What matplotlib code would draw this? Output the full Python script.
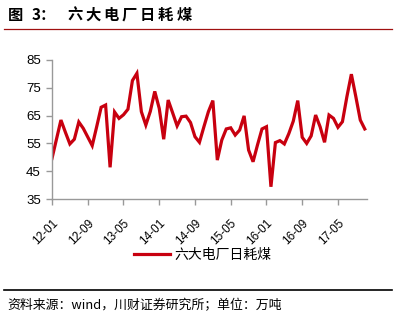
import matplotlib
matplotlib.use("Agg")
import matplotlib.pyplot as plt
from matplotlib.lines import Line2D
from matplotlib.transforms import ScaledTranslation

plt.rcParams['font.family'] = ['Liberation Sans', 'Noto Sans CJK SC', 'DejaVu Sans']
plt.rcParams['axes.unicode_minus'] = False

# 六大电厂日耗煤（万吨），2012-01 起按月
values = [49.6, 56.5, 63.4, 59.0, 54.8, 56.5, 62.7, 60.4, 57.3, 54.2,
          61.0, 68.0, 68.8, 46.4, 66.3, 64.0, 65.3, 67.3, 77.6, 80.2,
          66.4, 61.6, 66.5, 73.7, 67.6, 56.5, 70.6, 66.0, 61.3, 64.6,
          64.8, 62.5, 57.4, 55.4, 61.0, 66.4, 70.4, 49.0, 56.2, 60.2,
          60.6, 58.0, 59.8, 64.9, 52.6, 48.4, 54.5, 60.2, 61.0, 39.4,
          55.3, 56.0, 54.8, 58.5, 63.0, 70.4, 57.2, 55.0, 57.7, 65.2,
          61.0, 55.4, 65.2, 64.0, 60.8, 62.8, 71.8, 79.9, 71.8, 63.4,
          60.2]
tick_labels = ['12-01', '12-09', '13-05', '14-01', '14-09',
               '15-05', '16-01', '16-09', '17-05']
yticks = [35, 45, 55, 65, 75, 85]
title_chars = '六大电厂日耗煤'

red = '#c8000f'
grey = '#999999'
W, H = 398, 322

fig = plt.figure(figsize=(W / 100, H / 100), dpi=100)
cjk = ['Noto Sans CJK SC', 'DejaVu Sans']

# 标题（逐字排开，字距较宽）
ty = 1 - 15 / H
fig.text(8 / W, ty, '图', fontsize=11, fontweight='bold', family=cjk, va='center')
fig.text(32 / W, ty, '3：', fontsize=11, fontweight='bold', family=cjk, va='center')
for i, ch in enumerate(title_chars):
    fig.text((67 + 18.2 * i) / W, ty, ch, fontsize=11, fontweight='bold',
             family=cjk, va='center')
fig.add_artist(Line2D([4 / W, 392 / W], [1 - 29 / H, 1 - 29 / H], color='#a01010', lw=0.9))

ax = fig.add_axes([52 / W, 1 - 199 / H, 315 / W, 139 / H])
x = list(range(len(values)))
ax.plot(x, values, color=red, lw=2.3, solid_joinstyle='miter', label='六大电厂日耗煤')

ax.set_ylim(35, 85)
ax.set_yticks(yticks)
ax.set_xlim(0, 70.5)
ax.set_xticks(range(0, 8 * len(tick_labels), 8))
ax.set_xticklabels(tick_labels, rotation=45, ha='right', rotation_mode='anchor', va='center')
ax.tick_params(axis='both', color=grey, length=4, width=1)
ax.tick_params(axis='x', labelsize=8.5, pad=12)
ax.tick_params(axis='y', labelsize=9.5, pad=4)
shift = ScaledTranslation(4 / 100, 0, fig.dpi_scale_trans)
for lbl in ax.get_xticklabels():
    lbl.set_transform(lbl.get_transform() + shift)
for s in ['top', 'right']:
    ax.spines[s].set_visible(False)
for s in ['left', 'bottom']:
    ax.spines[s].set_color(grey)
    ax.spines[s].set_linewidth(1)

fig.legend(*ax.get_legend_handles_labels(), loc='center',
           bbox_to_anchor=(203 / W, 1 - 255 / H), frameon=False,
           prop={'family': ['Noto Sans CJK SC'], 'size': 10},
           handlelength=2.6, handletextpad=0.3)

# 底部来源
fig.add_artist(Line2D([4 / W, 392 / W], [1 - 290 / H, 1 - 290 / H], color='black', lw=1.2))
fig.text(7 / W, 1 - 306 / H, '资料来源：wind，川财证券研究所；单位：万吨', fontsize=9.3,
         style='italic', family=cjk, va='center', ha='left')

fig.savefig('out.png', dpi=100)
